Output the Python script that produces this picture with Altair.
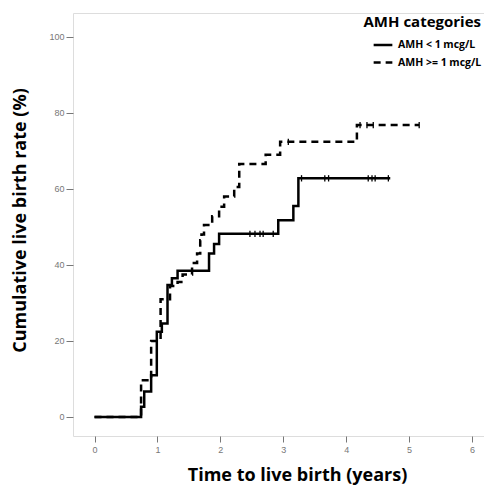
import altair as alt
import pandas as pd

# AMH < 1 mcg/L (solid)
low_t = [0, 0.74, 0.79, 0.90, 0.99, 1.07, 1.16, 1.23, 1.32, 1.82, 1.90, 1.98, 2.92, 3.16, 3.24, 4.70]
low_v = [0, 2.7, 6.7, 11.0, 22.4, 24.6, 34.7, 36.5, 38.5, 43.0, 45.5, 48.2, 51.8, 55.5, 62.8, 62.8]
low_cens_t = [2.47, 2.55, 2.63, 2.68, 2.84, 3.29, 3.66, 3.72, 4.35, 4.41, 4.46, 4.67]
low_cens_v = [48.2, 48.2, 48.2, 48.2, 48.2, 62.8, 62.8, 62.8, 62.8, 62.8, 62.8, 62.8]

# AMH >= 1 mcg/L (dashed)
high_t = [0, 0.74, 0.90, 1.05, 1.20, 1.32, 1.40, 1.55, 1.63, 1.68, 1.70, 1.74, 1.87, 1.98, 2.06, 2.22, 2.30, 2.72, 2.95, 4.17, 5.16]
high_v = [0, 9.7, 20.0, 31.0, 34.5, 35.5, 37.5, 40.5, 43.0, 46.5, 48.0, 50.5, 52.8, 55.3, 58.0, 60.5, 66.6, 69.0, 72.4, 76.8, 76.8]
high_cens_t = [3.08, 4.22, 4.33, 4.43, 5.16]
high_cens_v = [72.4, 76.8, 76.8, 76.8, 76.8]

groups = ["AMH < 1 mcg/L", "AMH >= 1 mcg/L"]
x_ticks = [0, 1, 2, 3, 4, 5, 6]
y_ticks = [0, 20, 40, 60, 80, 100]

lines = pd.DataFrame({
    "t": low_t + high_t,
    "v": low_v + high_v,
    "g": [groups[0]] * len(low_t) + [groups[1]] * len(high_t),
})
cens = pd.DataFrame({
    "t": low_cens_t + high_cens_t,
    "v": low_cens_v + high_cens_v,
})

x_enc = alt.X("t:Q", scale=alt.Scale(domain=[-0.342, 6.19], nice=False, zero=False),
              axis=alt.Axis(values=x_ticks, format="d", title="Time to live birth (years)", grid=False,
                            domain=False, tickSize=6, tickColor="#777", labelColor="#777",
                            labelFontSize=9, labelPadding=3, labelFont="Liberation Sans",
                            titleFont="Open Sans", titleFontWeight="bold", titleFontSize=18,
                            titleX=224, titleY=39, titleAlign="center", titleBaseline="middle",
                            titleColor="black"))
y_enc = alt.Y("v:Q", scale=alt.Scale(domain=[-5.0, 106.3], nice=False, zero=False),
              axis=alt.Axis(values=y_ticks, format="d", title="Cumulative live birth rate (%)", grid=False,
                            domain=False, tickSize=7, tickColor="#777", labelColor="#777",
                            labelFontSize=9, labelPadding=2, labelFont="Liberation Sans",
                            titleFont="Open Sans", titleFontWeight="bold", titleFontSize=18,
                            titleAngle=270, titleX=-53, titleY=207, titleAlign="center",
                            titleBaseline="middle", titleColor="black"))

line = alt.Chart(lines).mark_line(interpolate="step-after", color="black", strokeWidth=2.5).encode(
    x=x_enc, y=y_enc,
    strokeDash=alt.StrokeDash("g:N", scale=alt.Scale(domain=groups, range=[[1, 0], [7, 5]]),
                              legend=alt.Legend(title="AMH categories", orient="top-right", offset=2,
                                                padding=0,
                                                titleFont="Open Sans", titleFontWeight="bold",
                                                titleFontSize=15, titleAnchor="end",
                                                labelFont="Open Sans", labelFontWeight="bold",
                                                labelFontSize=10.5, symbolStrokeColor="black",
                                                symbolStrokeWidth=2.5, symbolSize=350,
                                                rowPadding=0.5, titlePadding=4, labelColor="black",
                                                titleColor="black")),
)

pts = alt.Chart(cens).mark_point(shape="M0,-1L0,1", filled=False, color="black",
                                 strokeWidth=1.3, size=40, opacity=1).encode(
    x="t:Q", y="v:Q")

chart = alt.layer(line, pts).properties(
    width=411, height=423,
    autosize=alt.AutoSizeParams(type="none"),
    padding={"left": 65, "top": 5, "right": 0, "bottom": 53},
).configure_view(stroke="#555", strokeWidth=1.3).configure(background="white")

chart.save("out.html", embed_options={"renderer": "svg", "actions": False})
